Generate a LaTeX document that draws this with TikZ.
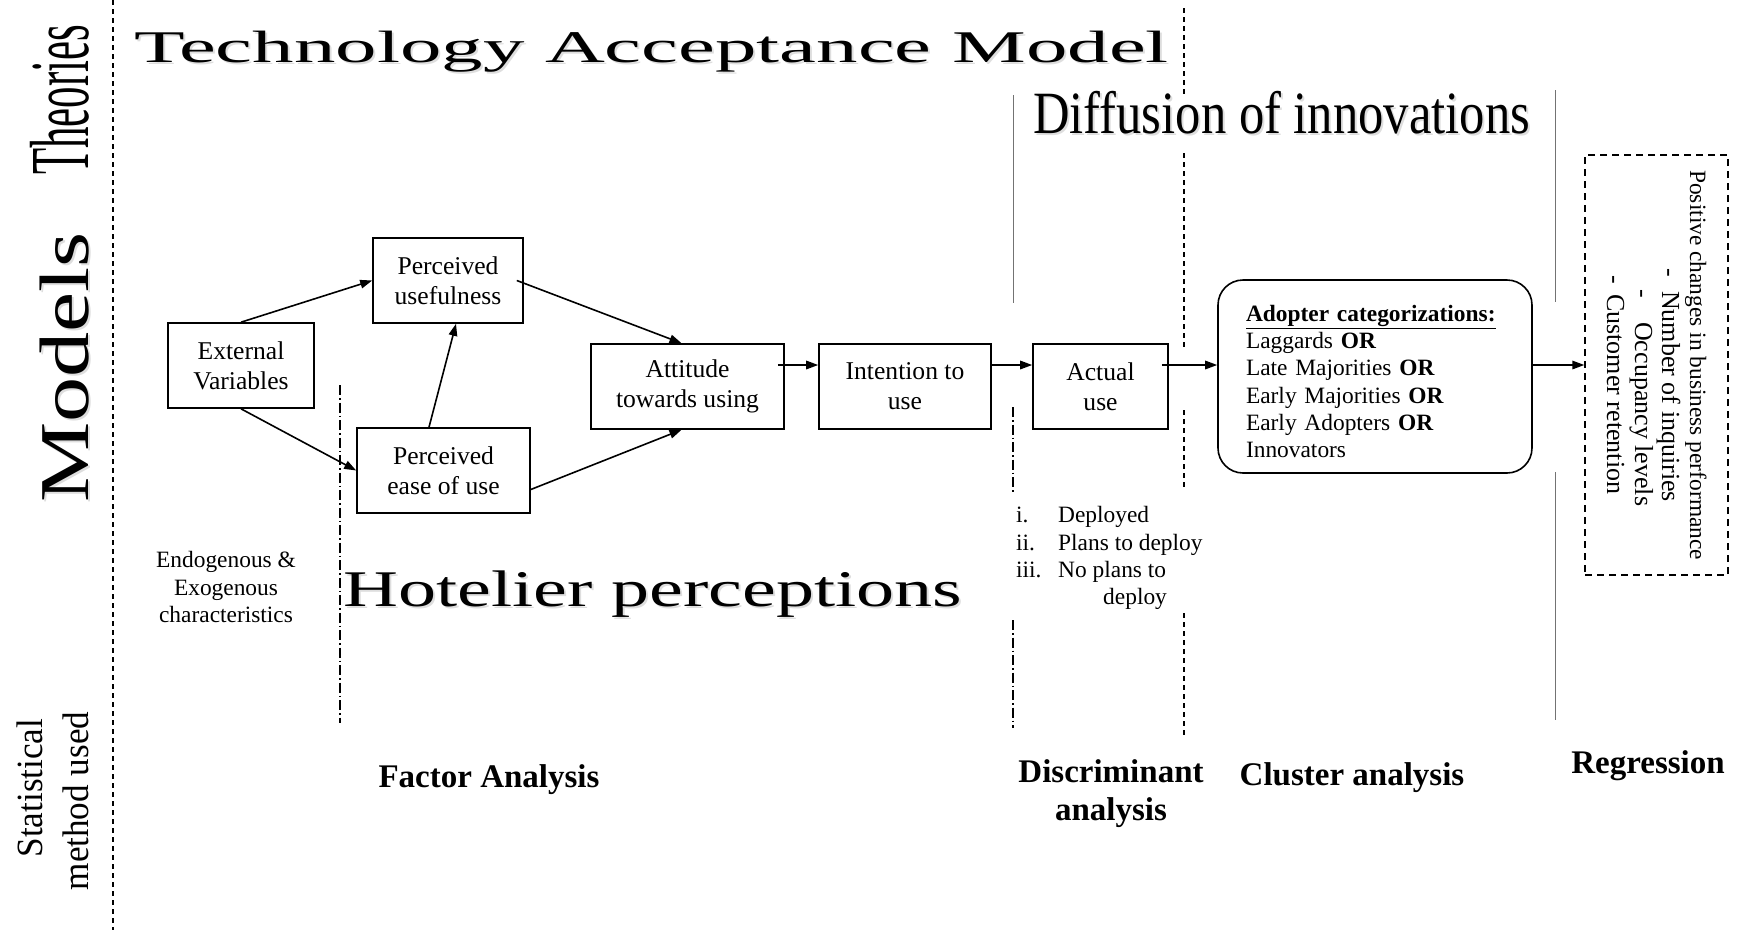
\documentclass[tikz,border=0pt]{standalone}
\usepackage{fontspec}
\setmainfont{Liberation Serif}
\usepackage{graphicx}
\usetikzlibrary{arrows.meta}

\tikzset{
  box/.style={draw, line width=1.6pt, inner sep=0pt, align=center,
    font=\fontsize{25.6}{30}\selectfont},
  link/.style={line width=1.6pt, -{Triangle[length=12pt,width=8.5pt]}},
  smalltext/.style={inner sep=0pt, font=\fontsize{23.4}{27.2}\selectfont},
  listtext/.style={inner sep=0pt, rotate=-90, anchor=base west,
    font=\fontsize{26}{28}\selectfont},
  method/.style={inner sep=0pt, align=center, font=\fontsize{33}{38}\selectfont\bfseries},
  rowlabel/.style={rotate=90, inner sep=0pt},
  title/.style={anchor=base west, inner sep=0pt},
  shade/.style={text=black!13},
  sepdash/.style={line width=1.2pt, dash pattern=on 5pt off 4pt},
  sepdashdot/.style={line width=1.1pt, dash pattern=on 10pt off 3pt on 1.5pt off 3pt},
  septhin/.style={line width=0.9pt, black!55},
}

\begin{document}
\begin{tikzpicture}[x=1pt, y=-1pt]
\useasboundingbox (0,0) rectangle (1740,930);

% row labels in the left margin
\node[rowlabel, anchor=base west] (theories) at (88,175)
  {\fontsize{84}{84}\selectfont\scalebox{0.51}[1]{Theories}};
\node[rowlabel, anchor=base west, shade] (models-s) at (90,505)
  {\fontsize{70}{70}\selectfont\scalebox{1.29}[1]{Models}};
\node[rowlabel, anchor=base west] (models) at (88,503)
  {\fontsize{70}{70}\selectfont\scalebox{1.29}[1]{Models}};
\node[rowlabel, anchor=base] (stat1) at (42,788)
  {\fontsize{37}{37}\selectfont\scalebox{0.95}[1]{Statistical}};
\node[rowlabel, anchor=base] (stat2) at (88,801)
  {\fontsize{37}{37}\selectfont\scalebox{0.95}[1]{method used}};

% column separators
\draw[sepdash] (113,0) -- (113,930);
\draw[sepdashdot] (340,385) -- (340,723);
\draw[septhin] (1013,95) -- (1013,303);
\draw[sepdashdot] (1013,407) -- (1013,493);
\draw[sepdashdot] (1013,620) -- (1013,728);
\draw[sepdash] (1184,8) -- (1184,97);
\draw[sepdash] (1184,153) -- (1184,347);
\draw[sepdash] (1184,410) -- (1184,487);
\draw[sepdash] (1184,613) -- (1184,735);
\draw[septhin] (1555,90) -- (1555,302);
\draw[septhin] (1555,472) -- (1555,720);

% theory headings, each with a soft grey shadow
\node[title, shade] (tam-s) at (136,64)
  {\fontsize{45.3}{45}\selectfont\scalebox{1.83}[1]{Technology Acceptance Model}};
\node[title] (tam) at (134,62)
  {\fontsize{45.3}{45}\selectfont\scalebox{1.83}[1]{Technology Acceptance Model}};
\node[title, shade] (doi-s) at (1035,135)
  {\fontsize{60}{60}\selectfont\scalebox{0.844}[1]{Diffusion of innovations}};
\node[title] (doi) at (1033,133)
  {\fontsize{60}{60}\selectfont\scalebox{0.844}[1]{Diffusion of innovations}};
\node[title, shade] (hotel-s) at (345,608)
  {\fontsize{51.4}{51}\selectfont\scalebox{1.48}[1]{Hotelier perceptions}};
\node[title] (hotel) at (343,606)
  {\fontsize{51.4}{51}\selectfont\scalebox{1.48}[1]{Hotelier perceptions}};

% TAM boxes
\node[box, minimum width=146, minimum height=85] (ev) at (241,365.5) {External\\Variables};
\node[box, minimum width=150, minimum height=85] (pu) at (448,280.5) {Perceived\\usefulness};
\node[box, minimum width=173, minimum height=85] (peou) at (443.5,470.5) {Perceived\\ease of use};
\node[box, minimum width=193, minimum height=85] (att) at (687.5,386.5) {Attitude\\towards using};
\node[box, minimum width=172, minimum height=85] (int) at (905,386.5) {Intention to\\use};
\node[box, minimum width=135, minimum height=85] (act) at (1100.5,386.5) {Actual\\use};

% adopter categories
\node[draw, line width=1.6pt, rounded corners=25pt, minimum width=314,
      minimum height=193, inner sep=0pt] (adopt) at (1375,376.5) {};
\node[inner sep=0pt, text width=258pt, align=left,
      font=\fontsize{23.4}{27.2}\selectfont] (adopttext) at (1375,381.5)
  {\textbf{\underline{Adopter categorizations:}}\\
   Laggards \textbf{OR}\\
   Late Majorities \textbf{OR}\\
   Early Majorities \textbf{OR}\\
   Early Adopters \textbf{OR}\\
   Innovators};

% business performance outcome
\node[draw, line width=1.4pt, dash pattern=on 7pt off 5pt, minimum width=143,
      minimum height=420, inner sep=0pt] (res) at (1656.5,365) {};
\node[smalltext, rotate=-90, anchor=base west] (r1) at (1690,170)
  {Positive changes in business performance};
\node[listtext] (r2d) at (1662,268) {-};
\node[listtext] (r2) at (1662,291) {Number of inquiries};
\node[listtext] (r3d) at (1635,289) {-};
\node[listtext] (r3) at (1635,322) {Occupancy levels};
\node[listtext] (r4d) at (1607,275) {-};
\node[listtext] (r4) at (1607,294) {Customer retention};

% connectors
\draw[link] (ev.north) -- (pu.west);
\draw[link] (ev.south) -- (peou.west);
\draw[link] ([xshift=-14.5pt]peou.north) -- ([xshift=8pt]pu.south);
\draw[link] ([xshift=-7pt]pu.east) -- ([xshift=-6pt]att.north);
\draw[link] ([yshift=-19pt]peou.east) -- ([xshift=-6pt]att.south);
\draw[link] ([xshift=-7pt,yshift=21.5pt]att.east) -- ([yshift=21.5pt]int.west);
\draw[link] ([yshift=21.5pt]int.east) -- ([yshift=21.5pt]act.west);
\draw[link] ([xshift=-7pt,yshift=21.5pt]act.east) -- ([yshift=11.5pt]adopt.west);
\draw[link] ([yshift=11.5pt]adopt.east) -- (res.west);

% notes
\node[smalltext, align=center] (endo) at (226,587)
  {Endogenous \&\\Exogenous\\characteristics};
\node[smalltext, anchor=base west] (n1) at (1016,522) {i.};
\node[smalltext, anchor=base west] (t1) at (1058,522) {Deployed};
\node[smalltext, anchor=base west] (n2) at (1016,550) {ii.};
\node[smalltext, anchor=base west] (t2) at (1058,550) {Plans to deploy};
\node[smalltext, anchor=base west] (n3) at (1016,577) {iii.};
\node[smalltext, anchor=base west] (t3) at (1058,577) {No plans to};
\node[smalltext, anchor=base west] (t3b) at (1103,604) {deploy};

% statistical methods
\node[method, anchor=base] (fa) at (489,787) {Factor Analysis};
\node[method] (da) at (1111,794) {Discriminant\\analysis};
\node[method, anchor=base] (ca) at (1352,785) {Cluster analysis};
\node[method, anchor=base] (rg) at (1648,773) {Regression};
\end{tikzpicture}
\end{document}
